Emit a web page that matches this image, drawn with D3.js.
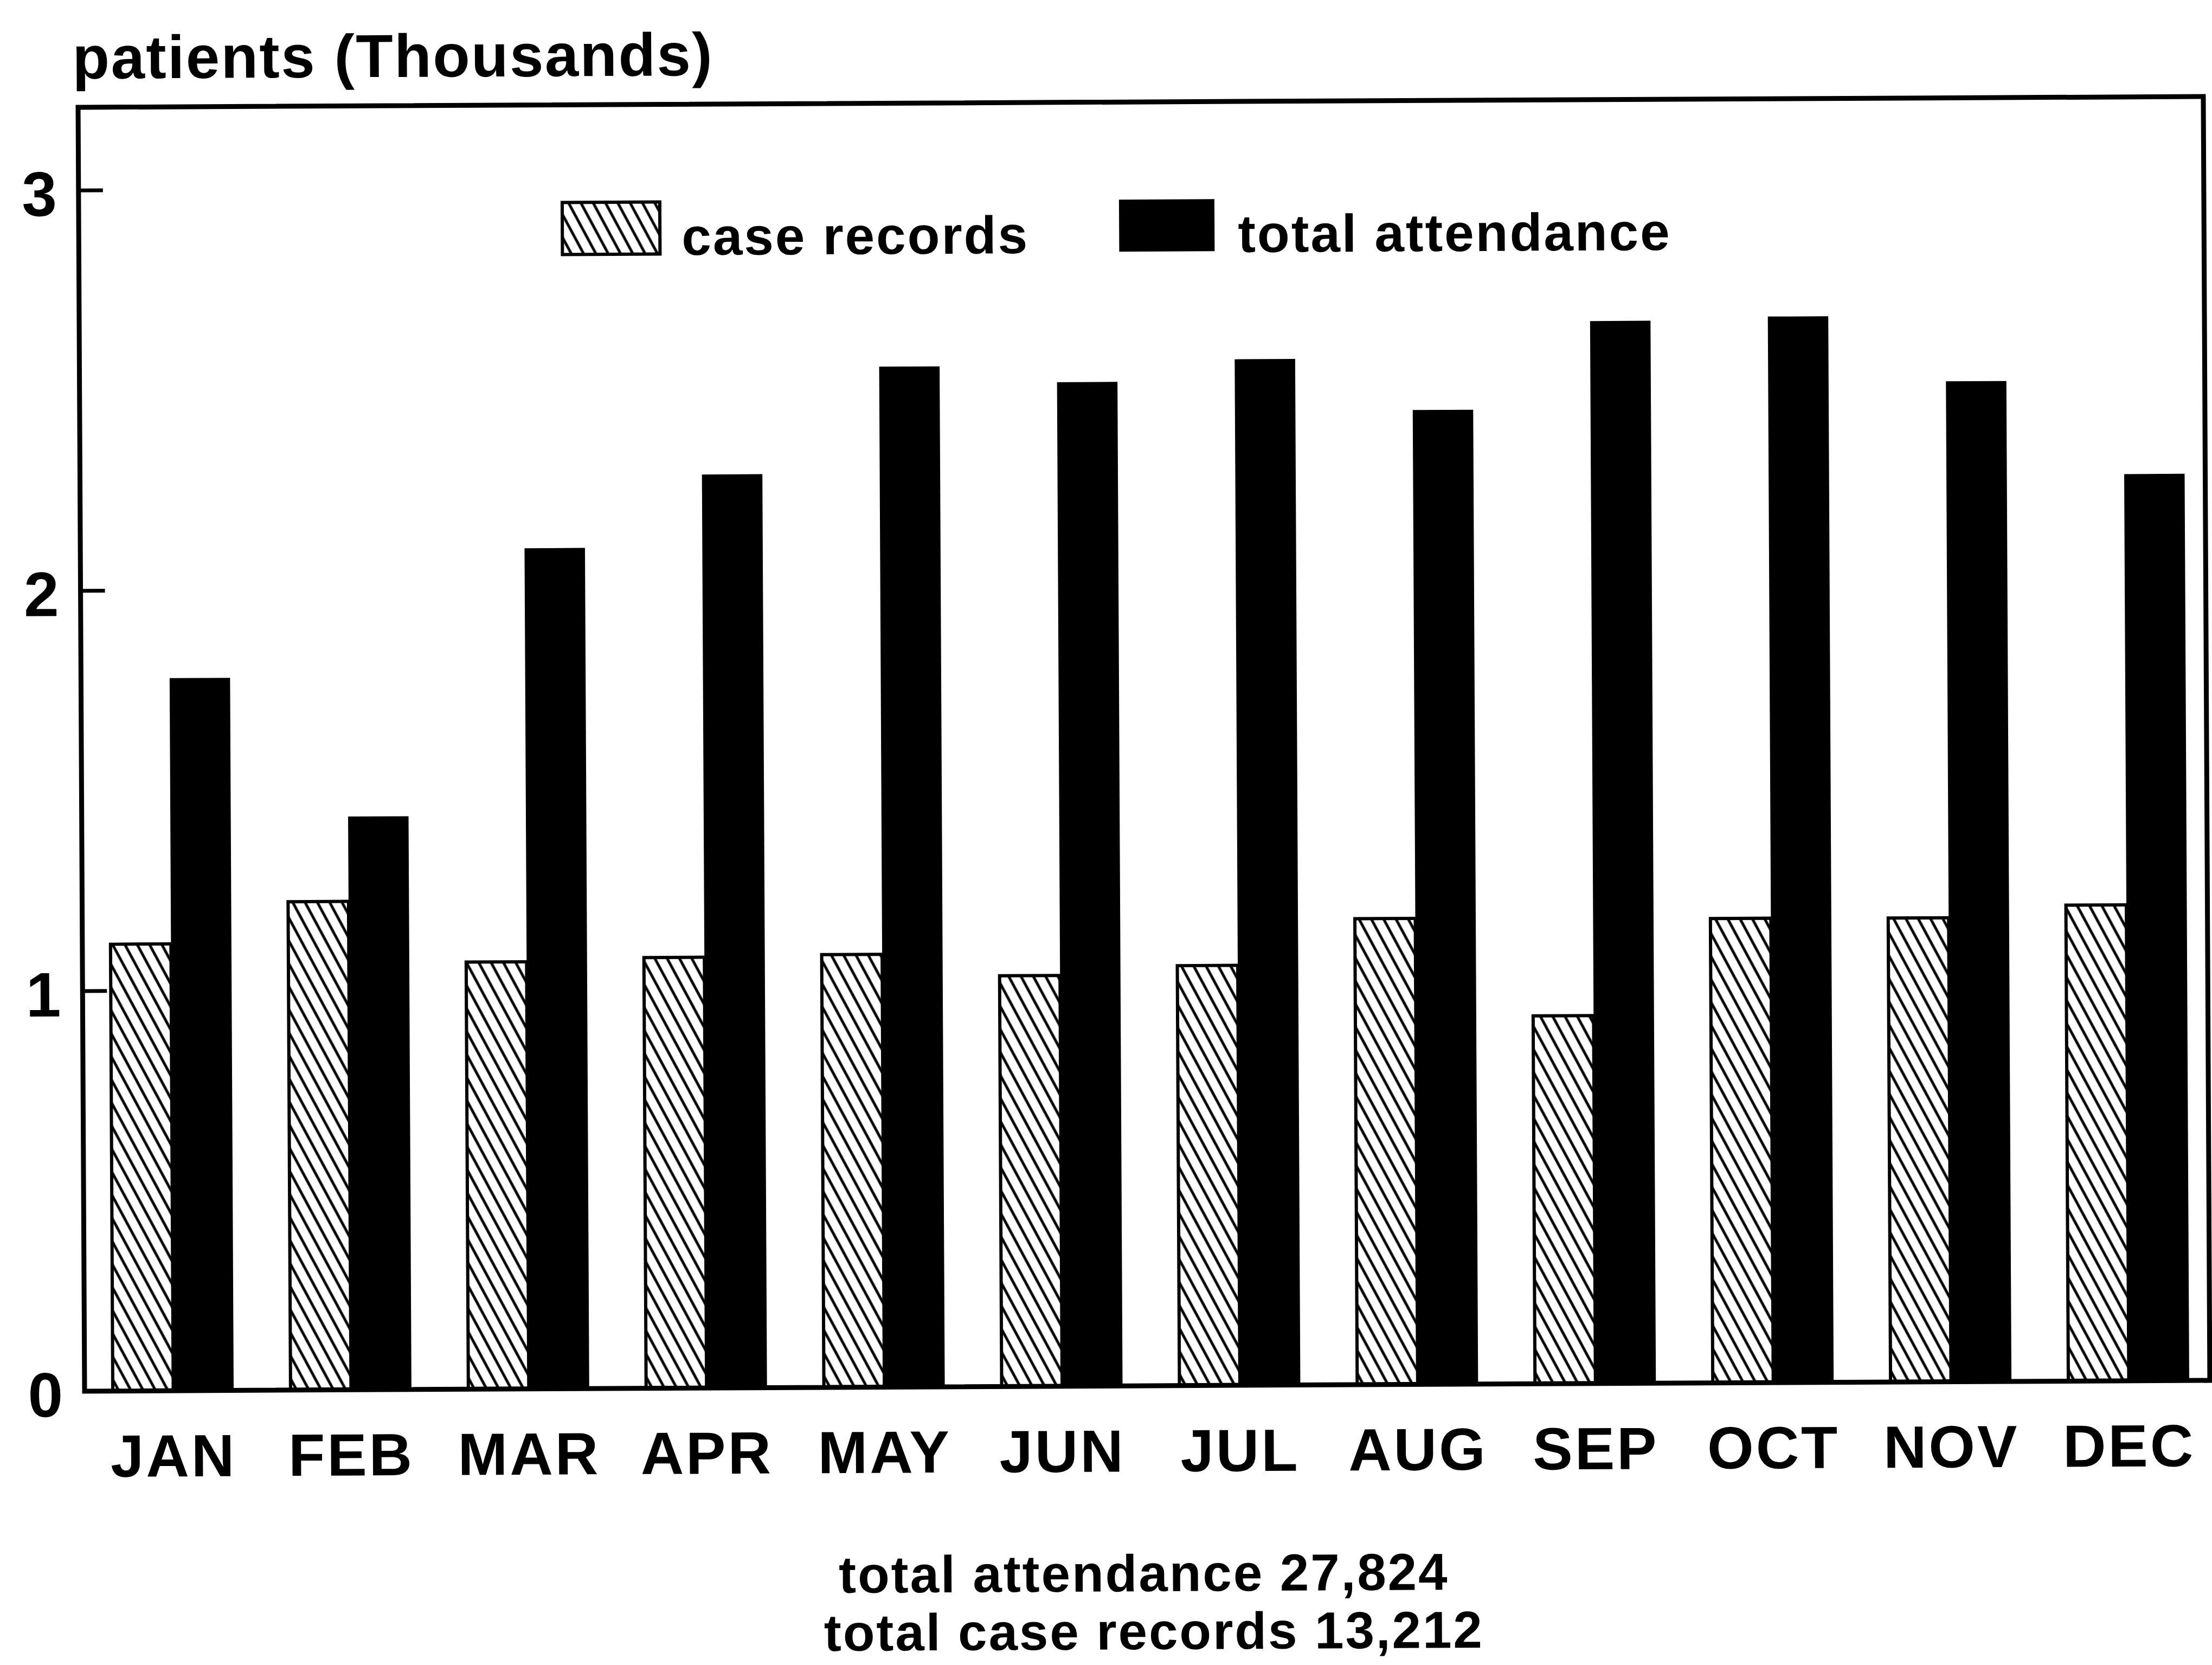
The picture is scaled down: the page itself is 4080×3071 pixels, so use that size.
<!DOCTYPE html>
<html lang="en">
<head>
<meta charset="utf-8">
<title>Patients per month</title>
<script src="https://cdn.jsdelivr.net/npm/d3@7"></script>
<style>
  body { margin: 0; background: #fff; }
  text { font-family: "Liberation Sans", Arial, sans-serif; font-weight: bold; fill: #000; }
</style>
</head>
<body>
<script>
// values, in thousands of patients
var months = ["JAN", "FEB", "MAR", "APR", "MAY", "JUN", "JUL", "AUG", "SEP", "OCT", "NOV", "DEC"];
var caseRecords = [1.116, 1.220, 1.067, 1.076, 1.081, 1.026, 1.049, 1.164, 0.919, 1.160, 1.159, 1.189];
var totalAttendance = [1.780, 1.432, 2.100, 2.282, 2.549, 2.508, 2.563, 2.434, 2.654, 2.663, 2.499, 2.265];
var series = ["case records", "total attendance"];
var yTicks = [0, 1, 2, 3];
var yLabel = "patients (Thousands)";
var footer = ["total attendance 27,824", "total case records 13,212"];

var w = 4080, h = 3071;
// plot frame (window.top is reserved, so no plain "top")
var plotL = 150, plotR = 4070, plotT = 188, plotB = 2556;

var svg = d3.select("body").append("svg")
    .attr("width", w)
    .attr("height", h);

svg.append("rect").attr("width", w).attr("height", h).attr("fill", "#fff");

// hatch for the case record bars
var defs = svg.append("defs");
defs.append("pattern")
    .attr("id", "hatch")
    .attr("patternUnits", "userSpaceOnUse")
    .attr("width", 20)
    .attr("height", 20)
    .attr("patternTransform", "rotate(-28)")
  .append("line")
    .attr("x1", 10).attr("y1", -2)
    .attr("x2", 10).attr("y2", 22)
    .attr("stroke", "#000")
    .attr("stroke-width", 5);

// the scanned original sits slightly askew
var g = svg.append("g")
    .attr("transform", "rotate(-0.29," + (plotL + plotR) / 2 + "," + (plotT + plotB) / 2 + ")");

var y = d3.scaleLinear().domain([0, 3.207]).range([plotB, plotT]);

var x = d3.scaleBand().domain(months).range([202, 4032]).paddingInner(0.32).paddingOuter(0);
var x1 = d3.scaleBand().domain(series).range([0, x.bandwidth()]);

var rows = months.map(function(m, i) {
  return { month: m, values: [caseRecords[i], totalAttendance[i]] };
});

var groups = g.selectAll("g.month")
    .data(rows)
    .enter().append("g")
    .attr("class", "month")
    .attr("transform", function(d) { return "translate(" + x(d.month) + ",0)"; });

groups.selectAll("rect")
    .data(function(d) { return d.values.map(function(v, j) { return { key: series[j], value: v }; }); })
    .enter().append("rect")
    .attr("x", function(d) { return x1(d.key); })
    .attr("y", function(d) { return y(d.value); })
    .attr("width", x1.bandwidth())
    .attr("height", function(d) { return y(0) - y(d.value); })
    .attr("fill", function(d) { return d.key === "case records" ? "url(#hatch)" : "#000"; })
    .attr("stroke", "#000")
    .attr("stroke-width", function(d) { return d.key === "case records" ? 6 : 0; });

// frame
g.append("rect")
    .attr("x", plotL).attr("y", plotT)
    .attr("width", plotR - plotL).attr("height", plotB - plotT)
    .attr("fill", "none")
    .attr("stroke", "#000")
    .attr("stroke-width", 9);

// y axis, ticks pointing inward
var yAxis = g.append("g")
    .attr("transform", "translate(" + plotL + ",0)")
    .call(d3.axisLeft(y).tickValues(yTicks).tickFormat(d3.format("d"))
      .tickSizeInner(-45).tickSizeOuter(0).tickPadding(40));
yAxis.select(".domain").remove();
yAxis.selectAll(".tick line").attr("stroke", "#000").attr("stroke-width", 7);
yAxis.selectAll(".tick text")
    .attr("dy", "0.4em")
    .style("font-size", "116px")
    .style("font-family", "'Liberation Sans', Arial, sans-serif")
    .style("font-weight", "bold");

// month labels
var xAxis = g.append("g")
    .attr("transform", "translate(0," + plotB + ")")
    .call(d3.axisBottom(x).tickSize(0).tickPadding(80));
xAxis.select(".domain").remove();
xAxis.selectAll(".tick text")
    .style("font-size", "110px")
    .style("font-family", "'Liberation Sans', Arial, sans-serif")
    .style("font-weight", "bold")
    .style("letter-spacing", "4px");

// axis title
g.append("text")
    .attr("x", 140)
    .attr("y", 135)
    .style("font-size", "112px")
    .style("letter-spacing", "2.5px")
    .text(yLabel);

// legend
var legend = g.append("g").attr("transform", "translate(1042,368)");
var legendX = [0, 1027];
series.forEach(function(s, i) {
  var item = legend.append("g").attr("transform", "translate(" + legendX[i] + ",0)");
  item.append("rect")
      .attr("width", i === 0 ? 180 : 176)
      .attr("height", 96)
      .attr("fill", i === 0 ? "url(#hatch)" : "#000")
      .attr("stroke", "#000")
      .attr("stroke-width", i === 0 ? 6 : 0);
  item.append("text")
      .attr("x", i === 0 ? 220 : 219)
      .attr("y", 98)
      .style("font-size", "98px")
      .style("letter-spacing", "3px")
      .text(s);
});

// totals beneath the chart
g.selectAll("text.footer")
    .data(footer)
    .enter().append("text")
    .attr("class", "footer")
    .attr("x", function(d, i) { return i === 0 ? 2102 : 2120; })
    .attr("y", function(d, i) { return 2935 + i * 107; })
    .attr("text-anchor", "middle")
    .style("font-size", "96px")
    .style("letter-spacing", "3px")
    .text(function(d) { return d; });
</script>
</body>
</html>
